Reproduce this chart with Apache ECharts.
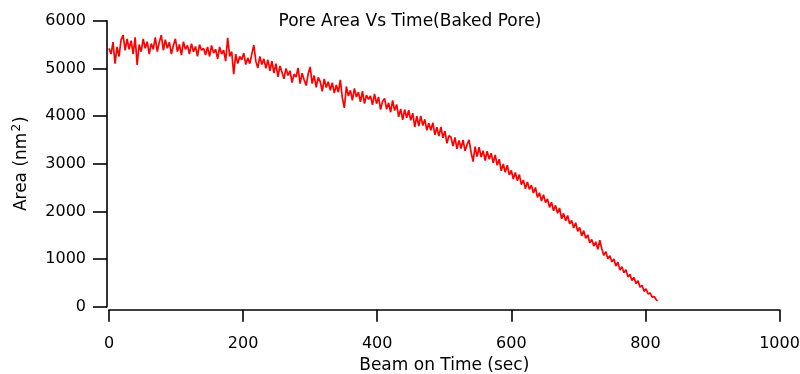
<!DOCTYPE html>
<html>
<head>
<meta charset="utf-8">
<script src="https://cdn.jsdelivr.net/npm/echarts@6/dist/echarts.min.js"></script>
<style>html,body{margin:0;padding:0;background:#fff}#c{width:800px;height:374px}</style>
</head>
<body>
<div id="c"></div>
<script>
const titleText = 'Pore Area Vs Time(Baked Pore)';
const xName = 'Beam on Time (sec)';
const xTicks = [0, 200, 400, 600, 800, 1000];
const yTicks = [0, 1000, 2000, 3000, 4000, 5000, 6000];
const timeStep = 3;
const area = [
  5420, 5300, 5550, 5100, 5450, 5250, 5600, 5700, 5380, 5620,
  5400, 5580, 5300, 5650, 5070, 5500, 5350, 5620, 5420, 5560,
  5300, 5520, 5400, 5650, 5350, 5550, 5700, 5380, 5600, 5420,
  5550, 5300, 5480, 5620, 5350, 5500, 5280, 5560, 5400, 5480,
  5300, 5520, 5350, 5460, 5250, 5500, 5380, 5420, 5280, 5450,
  5250, 5480, 5320, 5400, 5200, 5450, 5300, 5380, 5150, 5640,
  5250, 5350, 4880, 5300, 5100, 5250, 5180, 5320, 5080, 5220,
  5100, 5300, 5490, 5150, 5010, 5250, 5080, 5200, 5000, 5180,
  4950, 5150, 4900, 5100, 4820, 5050, 4920, 4780, 5000, 4850,
  4950, 4700, 4880, 4820, 5010, 4680, 4900, 4760, 4640, 4880,
  5030, 4680, 4850, 4600, 4810, 4720, 4520, 4780, 4600, 4720,
  4540, 4700, 4480, 4650, 4500, 4760, 4380, 4170, 4620, 4420,
  4540, 4330, 4580, 4400, 4500, 4300, 4520, 4260, 4440, 4350,
  4420, 4233, 4466, 4259, 4402, 4135, 4308, 4371, 4144, 4277,
  4080, 4328, 4116, 4244, 3982, 4150, 3918, 4136, 3964, 4122,
  3910, 4060, 3770, 4000, 3790, 4000, 3800, 3930, 3700, 3850,
  3700, 3862, 3604, 3766, 3578, 3770, 3542, 3684, 3426, 3588,
  3560, 3370, 3550, 3310, 3490, 3320, 3500, 3270, 3400, 3500,
  3240, 3044, 3358, 3152, 3346, 3140, 3274, 3068, 3262, 3096,
  3220, 3016, 3182, 2968, 3094, 2850, 2996, 2822, 2968, 2764,
  2860, 2678, 2816, 2644, 2772, 2560, 2658, 2476, 2614, 2462,
  2550, 2385, 2500, 2295, 2390, 2215, 2350, 2185, 2260, 2085,
  2190, 2013, 2126, 1959, 2072, 1845, 1958, 1801, 1914, 1737,
  1810, 1651, 1762, 1583, 1664, 1485, 1596, 1437, 1508, 1339,
  1410, 1271, 1362, 1203, 1394, 1215, 1076, 1157, 1008, 1069,
  940, 1002, 854, 936, 768, 840, 712, 774, 626, 678,
  550, 612, 484, 546, 408, 450, 322, 374, 266, 288,
  200, 215, 150
];
const lastTime = 818;
const lastArea = 120;

const points = area.map((v, i) => [i * timeStep, v]);
points.push([lastTime, lastArea]);

const font = 'DejaVu Sans, sans-serif';
const plain = v => String(v);
const chart = echarts.init(document.getElementById('c'), null, {renderer: 'canvas'});
chart.setOption({
  animation: false,
  backgroundColor: '#fff',
  title: {
    text: titleText,
    left: 405, top: 8,
    textAlign: 'center',
    textStyle: {fontFamily: font, fontSize: 17, fontWeight: 'normal', color: '#000'}
  },
  grid: {left: 109, right: 20.5, top: 20.7, bottom: 67.3, containLabel: false, outerBoundsMode: 'none'},
  xAxis: {
    type: 'value', min: xTicks[0], max: xTicks[xTicks.length - 1], interval: 200,
    offset: 3,
    name: xName, nameLocation: 'middle', nameGap: 47,
    nameTextStyle: {fontFamily: font, fontSize: 17, color: '#000'},
    axisLine: {show: true, onZero: false, lineStyle: {color: '#000', width: 1.6}},
    axisTick: {show: true, inside: false, length: 12, lineStyle: {color: '#000', width: 1.6}},
    axisLabel: {fontFamily: font, fontSize: 16, color: '#000', margin: 26, formatter: plain},
    splitLine: {show: false}
  },
  yAxis: {
    type: 'value', min: yTicks[0], max: yTicks[yTicks.length - 1], interval: 1000,
    offset: 2,
    name: '{n|Area (nm}{s|2}{n|)}', nameLocation: 'middle', nameGap: 74, nameRotate: 90,
    nameTextStyle: {fontFamily: font, fontSize: 17, color: '#000',
      rich: {n: {fontFamily: font, fontSize: 17, color: '#000'},
             s: {fontFamily: font, fontSize: 12, color: '#000', verticalAlign: 'top', padding: [0,1,10,1]}}},
    axisLine: {show: true, onZero: false, lineStyle: {color: '#000', width: 1.6}},
    axisTick: {show: true, inside: false, length: 14, lineStyle: {color: '#000', width: 1.6}},
    axisLabel: {fontFamily: font, fontSize: 16, color: '#000', margin: 21, formatter: plain},
    splitLine: {show: false}
  },
  series: [{
    type: 'line', data: points, showSymbol: false, symbol: 'none',
    lineStyle: {color: '#ff0000', width: 1.7}, itemStyle: {color: '#ff0000'}
  }]
});
</script>
</body>
</html>
